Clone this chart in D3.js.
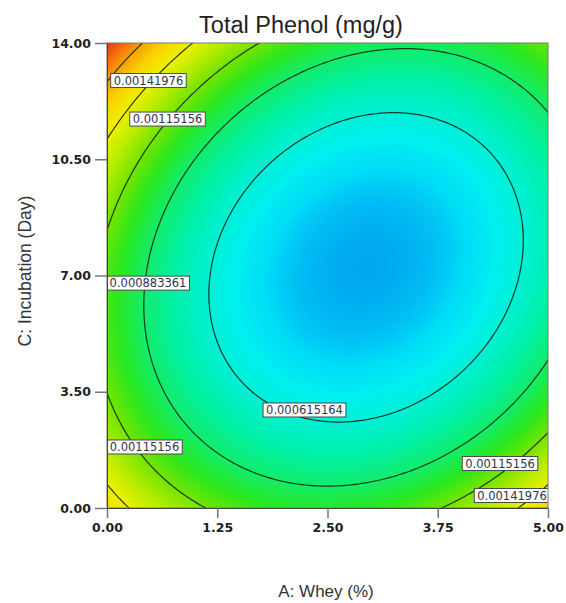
<!DOCTYPE html>
<html>
<head>
<meta charset="utf-8">
<script src="https://cdn.jsdelivr.net/npm/d3@7"></script>
<style>
  body { margin: 0; background: #fff; }
</style>
</head>
<body>
<div id="chart"></div>
<script>
// Fitted quadratic model, coded factors (A: whey, C: incubation, both -1..1)
const modelTerms = ["Intercept", "A", "C", "AC", "A^2", "C^2"];
const modelCoefs = [0.000363, -0.0001834, -0.0000082, -0.0002030, 0.0005444, 0.0006249];

// contour levels drawn by the software
const contourLevels = [0.000615164, 0.000883361, 0.00115156, 0.00141976, 0.00168796];

const xTicks = [0, 1.25, 2.5, 3.75, 5];
const yTicks = [0, 3.5, 7, 10.5, 14];

// contour labels (centre in factor units)
const labelText = ["0.00141976", "0.00115156", "0.000883361", "0.000615164", "0.00115156", "0.00115156", "0.00141976"];
const labelX = [0.47, 0.686, 0.465, 2.239, 0.425, 4.456, 4.592];
const labelY = [12.87, 11.71, 6.77, 2.951, 1.837, 1.34, 0.376];

const width = 566, height = 603;
const margin = { top: 43, right: 18, bottom: 95, left: 107 };
const plotW = width - margin.left - margin.right;
const plotH = height - margin.top - margin.bottom;

const xScale = d3.scaleLinear().domain([0, 5]).range([margin.left, margin.left + plotW]);
const yScale = d3.scaleLinear().domain([0, 14]).range([margin.top + plotH, margin.top]);

// predicted response at actual factor values
function predict(a, c) {
    const u = (a - 2.5) / 2.5;
    const v = (c - 7) / 7;
    const t = [1, u, v, u * v, u * u, v * v];
    return d3.sum(t, (d, i) => d * modelCoefs[i]);
}

// colour ramp blue -> cyan -> green -> yellow -> red, keyed on contour step
const step = contourLevels[1] - contourLevels[0];
const gStops = [-1, -0.8, -0.6, -0.3, 0, 0.5, 1, 1.5, 2, 2.5, 3, 3.5, 4, 4.5, 4.9];
const cStops = ["#00a8f0", "#00c0f4", "#00dcf6", "#00f0f0", "#00f0d6", "#00f0a4", "#12ec6a", "#2ae81e",
                "#74e400", "#b6ec00", "#eef000", "#f8d400", "#f8a000", "#f06010", "#e83018"];
const colorScale = d3.scaleLinear()
    .domain(gStops.map(g => contourLevels[0] + g * step))
    .range(cStops)
    .clamp(true);

const svg = d3.select("#chart").append("svg")
    .attr("width", width)
    .attr("height", height);

svg.append("defs").append("clipPath").attr("id", "plotClip")
    .append("rect")
    .attr("x", margin.left).attr("y", margin.top)
    .attr("width", plotW).attr("height", plotH);

// colour image, one pixel at a time through the scales
const canvas = document.createElement("canvas");
canvas.width = plotW;
canvas.height = plotH;
const ctx = canvas.getContext("2d");
const img = ctx.createImageData(plotW, plotH);
for (let j = 0; j < plotH; j++) {
    for (let i = 0; i < plotW; i++) {
        const a = xScale.invert(margin.left + i + 0.5);
        const c = yScale.invert(margin.top + j + 0.5);
        const col = d3.rgb(colorScale(predict(a, c)));
        const k = (j * plotW + i) * 4;
        img.data[k] = col.r;
        img.data[k + 1] = col.g;
        img.data[k + 2] = col.b;
        img.data[k + 3] = 255;
    }
}
ctx.putImageData(img, 0, 0);

svg.append("image")
    .attr("x", margin.left).attr("y", margin.top)
    .attr("width", plotW).attr("height", plotH)
    .attr("preserveAspectRatio", "none")
    .attr("href", canvas.toDataURL());

// contour lines from a grid slightly larger than the plot
const nx = 220, ny = 220;
const gx0 = -0.1, gx1 = 5.1, gy0 = -0.3, gy1 = 14.3;
const sx = (gx1 - gx0) / (nx - 1), sy = (gy1 - gy0) / (ny - 1);
const grid = new Array(nx * ny);
for (let j = 0; j < ny; j++) {
    for (let i = 0; i < nx; i++) {
        grid[j * nx + i] = predict(gx0 + i * sx, gy0 + j * sy);
    }
}
const contours = d3.contours().size([nx, ny]).thresholds(contourLevels)(grid);

const toPixels = d3.geoTransform({
    point: function (x, y) {
        this.stream.point(xScale(gx0 + (x - 0.5) * sx), yScale(gy0 + (y - 0.5) * sy));
    }
});
const path = d3.geoPath(toPixels);

const plot = svg.append("g").attr("clip-path", "url(#plotClip)");

plot.selectAll("path.contour")
    .data(contours)
    .enter().append("path")
    .attr("class", "contour")
    .attr("d", path)
    .attr("fill", "none")
    .attr("stroke", "#162616")
    .attr("stroke-width", 1.2)
    .attr("stroke-opacity", 0.9);

// contour labels
const labels = plot.selectAll("g.lbl")
    .data(labelText)
    .enter().append("g")
    .attr("class", "lbl")
    .attr("transform", (d, i) => `translate(${xScale(labelX[i])},${yScale(labelY[i])})`);

labels.append("text")
    .attr("text-anchor", "middle")
    .attr("dy", "0.36em")
    .attr("font-family", "DejaVu Sans, sans-serif")
    .attr("font-size", "11.5px")
    .attr("fill", "#33334d")
    .text(d => d);

labels.each(function () {
    const g = d3.select(this);
    const bb = g.select("text").node().getBBox();
    g.insert("rect", "text")
        .attr("x", bb.x - 3)
        .attr("y", -7)
        .attr("width", bb.width + 6)
        .attr("height", 14)
        .attr("fill", "#fff")
        .attr("stroke", "#4a4a4a")
        .attr("stroke-width", 1);
});

// frame
svg.append("rect")
    .attr("x", margin.left).attr("y", margin.top)
    .attr("width", plotW).attr("height", plotH)
    .attr("fill", "none")
    .attr("stroke", "#6f7f6f")
    .attr("stroke-width", 1);

// axes
const xAxis = svg.append("g")
    .attr("transform", `translate(0,${margin.top + plotH})`)
    .call(d3.axisBottom(xScale).tickValues(xTicks).tickFormat(d3.format(".2f")).tickSize(10).tickPadding(5));

const yAxis = svg.append("g")
    .attr("transform", `translate(${margin.left},0)`)
    .call(d3.axisLeft(yScale).tickValues(yTicks).tickFormat(d3.format(".2f")).tickSize(12).tickPadding(4));

[xAxis, yAxis].forEach(ax => {
    ax.select(".domain").attr("stroke", "#444");
    ax.selectAll(".tick line").attr("stroke", "#777").attr("stroke-width", 1.5);
    ax.selectAll(".tick text")
        .attr("font-family", "DejaVu Sans, sans-serif")
        .attr("font-weight", "bold")
        .attr("font-size", "12.5px")
        .attr("fill", "#222");
});

// title and axis titles
svg.append("text")
    .attr("x", 301).attr("y", 33)
    .attr("text-anchor", "middle")
    .attr("font-family", "Liberation Sans, Arial, sans-serif")
    .attr("font-size", "23.5px")
    .attr("fill", "#222")
    .text("Total Phenol (mg/g)");

svg.append("text")
    .attr("x", 326).attr("y", 597)
    .attr("text-anchor", "middle")
    .attr("font-family", "Liberation Sans, Arial, sans-serif")
    .attr("font-size", "17px")
    .attr("fill", "#333")
    .text("A: Whey (%)");

svg.append("text")
    .attr("transform", "translate(31,271) rotate(-90)")
    .attr("text-anchor", "middle")
    .attr("font-family", "Liberation Sans, Arial, sans-serif")
    .attr("font-size", "17.5px")
    .attr("fill", "#333")
    .text("C: Incubation (Day)");
</script>
</body>
</html>
